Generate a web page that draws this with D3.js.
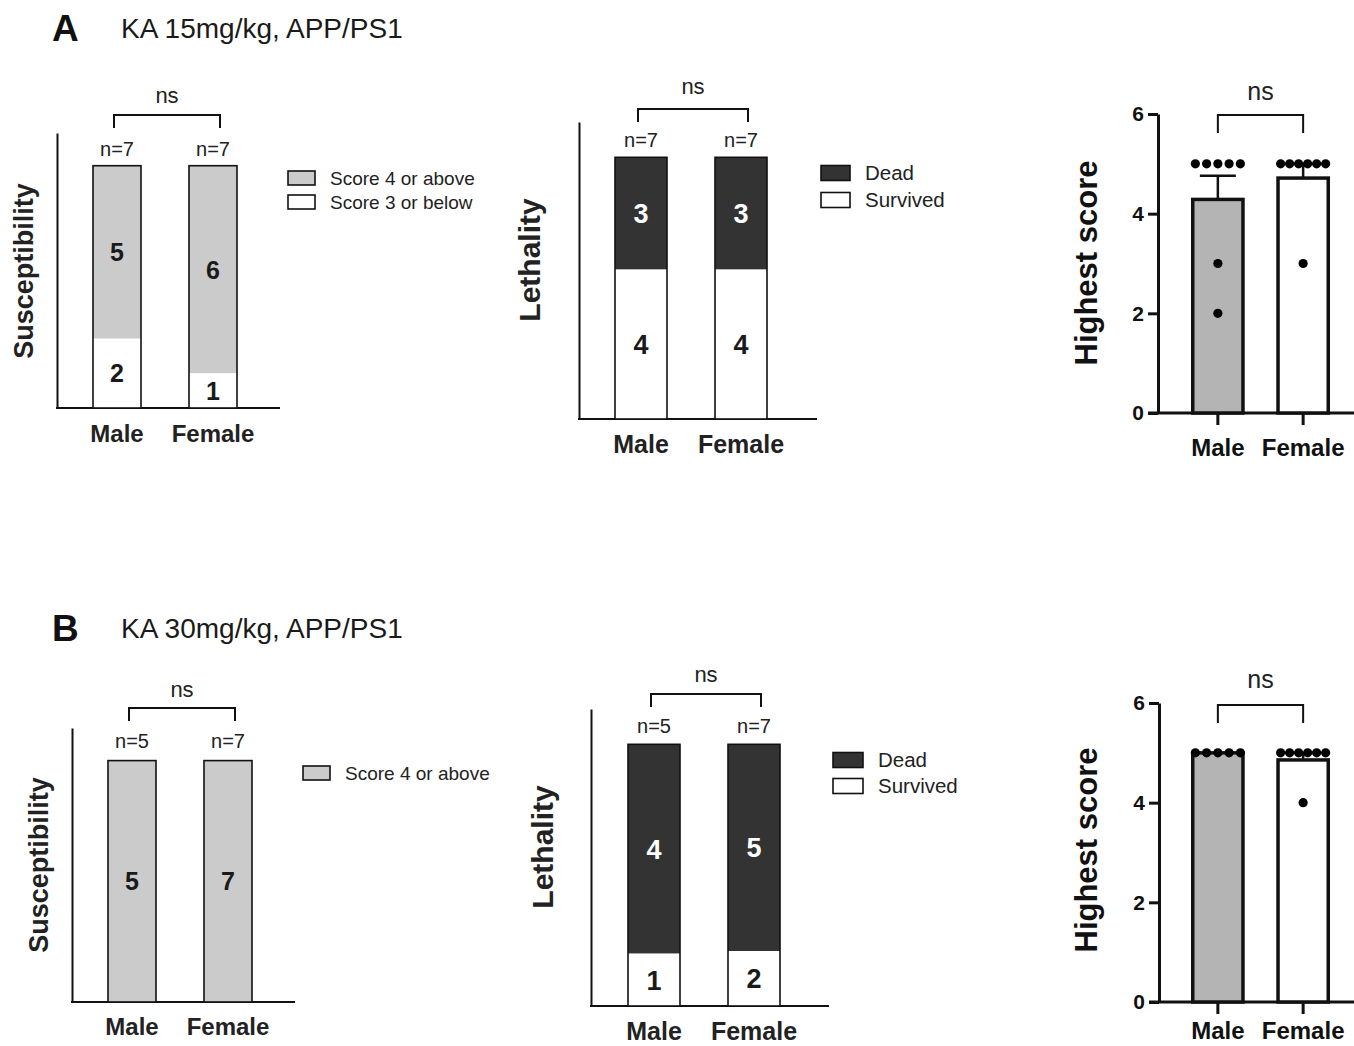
<!DOCTYPE html>
<html>
<head>
<meta charset="utf-8">
<script src="https://cdn.jsdelivr.net/npm/d3@7"></script>
<style>
  body { margin: 0; background: #fff; }
  svg { display: block; }
</style>
</head>
<body>
<script>
// ---- data ----
var sexes = ['Male', 'Female'];

// panel A : KA 15mg/kg
var nA = [7, 7];
var suscLowPctA = [28.6, 14.3];      // % of bar taken by "Score 3 or below"
var suscHighCountA = [5, 6];
var suscLowCountA = [2, 1];
var lethSurvPctA = [57.1, 57.1];     // % of bar taken by "Survived"
var lethDeadCountA = [3, 3];
var lethSurvCountA = [4, 4];
var scoreMaleA = [5, 5, 5, 5, 5, 3, 2];
var scoreFemaleA = [5, 5, 5, 5, 5, 5, 3];

// panel B : KA 30mg/kg
var nB = [5, 7];
var suscLowPctB = [0, 0];
var suscHighCountB = [5, 7];
var suscLowCountB = [0, 0];
var lethSurvPctB = [20, 21];
var lethDeadCountB = [4, 5];
var lethSurvCountB = [1, 2];
var scoreMaleB = [5, 5, 5, 5, 5];
var scoreFemaleB = [5, 5, 5, 5, 5, 5, 4];

var scoreTicks = [0, 2, 4, 6];
var suscLegendA = ['Score 4 or above', 'Score 3 or below'];
var suscLegendB = ['Score 4 or above'];
var lethLegend = ['Dead', 'Survived'];

var FONT = '"Liberation Sans", Arial, Helvetica, sans-serif';
var GREY = '#cbcbcb', DARK = '#333333', SCOREGREY = '#b4b4b4';

var svg = d3.select('body').append('svg')
    .attr('width', 1354)
    .attr('height', 1046)
    .style('font-family', FONT);

// panel headers
function header(y, letter, title) {
  svg.append('text').attr('x', 52).attr('y', y + 3)
    .attr('font-size', 37).attr('font-weight', 'bold').attr('fill', '#111').text(letter);
  svg.append('text').attr('x', 121).attr('y', y)
    .attr('font-size', 28).attr('fill', '#1a1a1a').text(title);
}
header(38, 'A', 'KA 15mg/kg, APP/PS1');
header(638, 'B', 'KA 30mg/kg, APP/PS1');

function bracket(g, x1, x2, yb, yt, nsBase, size) {
  g.append('path')
    .attr('d', 'M' + x1 + ',' + yt + 'V' + yb + 'H' + x2 + 'V' + yt)
    .attr('fill', 'none').attr('stroke', '#111').attr('stroke-width', 2);
  g.append('text').attr('x', (x1 + x2) / 2).attr('y', nsBase)
    .attr('text-anchor', 'middle').attr('font-size', size).attr('fill', '#222').text('ns');
}

// stacked 100% bar (susceptibility / lethality)
function drawStacked(c) {
  var g = svg.append('g');
  var y = d3.scaleLinear().domain([0, 113.5]).range([c.bottom, c.axisTop]);
  var x = d3.scaleBand().domain(sexes).range([c.barL, c.barR]).paddingInner(c.pad);

  g.append('g').attr('transform', 'translate(' + c.ax + ',0)')
    .call(d3.axisLeft(y).tickValues([]).tickSizeOuter(0))
    .select('.domain').attr('stroke', '#111').attr('stroke-width', 2);
  g.append('line').attr('x1', c.ax - 1).attr('x2', c.xEnd)
    .attr('y1', c.bottom).attr('y2', c.bottom)
    .attr('stroke', '#111').attr('stroke-width', 2);

  var rows = sexes.map(function(s, i) {
    return { sex: s, low: c.lowPct[i], top: c.topCount[i], lowN: c.lowCount[i], n: c.n[i] };
  });

  var bars = g.selectAll('.bar').data(rows).enter().append('g');
  bars.append('rect')
    .attr('x', function(d) { return x(d.sex); })
    .attr('width', x.bandwidth())
    .attr('y', y(100))
    .attr('height', function(d) { return y(d.low) - y(100); })
    .attr('fill', c.topFill);
  bars.filter(function(d) { return d.low > 0; }).append('rect')
    .attr('x', function(d) { return x(d.sex); })
    .attr('width', x.bandwidth())
    .attr('y', function(d) { return y(d.low); })
    .attr('height', function(d) { return y(0) - y(d.low); })
    .attr('fill', c.lowFill);
  bars.append('rect')
    .attr('x', function(d) { return x(d.sex); })
    .attr('width', x.bandwidth())
    .attr('y', y(100))
    .attr('height', y(0) - y(100))
    .attr('fill', 'none').attr('stroke', '#111').attr('stroke-width', 1.6);

  var cx = function(d) { return x(d.sex) + x.bandwidth() / 2; };
  bars.append('text')
    .attr('x', cx).attr('y', function(d) { return (y(100) + y(d.low)) / 2; })
    .attr('dy', '0.36em').attr('text-anchor', 'middle')
    .attr('font-size', c.numSize).attr('font-weight', 'bold').attr('fill', c.topText)
    .text(function(d) { return d.top; });
  bars.filter(function(d) { return d.lowN > 0; }).append('text')
    .attr('x', cx).attr('y', function(d) { return (y(0) + y(d.low)) / 2; })
    .attr('dy', '0.36em').attr('text-anchor', 'middle')
    .attr('font-size', c.numSize).attr('font-weight', 'bold').attr('fill', '#1a1a1a')
    .text(function(d) { return d.lowN; });
  bars.append('text')
    .attr('x', cx).attr('y', c.nBase).attr('text-anchor', 'middle')
    .attr('font-size', 20).attr('fill', '#222')
    .text(function(d) { return 'n=' + d.n; });
  bars.append('text')
    .attr('x', cx).attr('y', c.catBase).attr('text-anchor', 'middle')
    .attr('font-size', c.catSize).attr('font-weight', 'bold').attr('fill', '#222')
    .text(function(d) { return d.sex; });

  var c1 = x('Male') + x.bandwidth() / 2, c2 = x('Female') + x.bandwidth() / 2;
  bracket(g, c1 - 3, c2 + 7, c.brY, c.brY + 13, c.nsBase, 22);

  g.append('text')
    .attr('transform', 'translate(' + c.labX + ',' + c.labY + ') rotate(-90)')
    .attr('text-anchor', 'middle').attr('font-size', c.labSize).attr('font-weight', 'bold')
    .attr('fill', '#222').text(c.label);

  var lg = g.append('g').attr('transform', 'translate(' + c.legX + ',' + c.legY + ')');
  c.legend.forEach(function(t, i) {
    lg.append('rect').attr('x', 0).attr('y', i * c.legStep - c.boxH / 2)
      .attr('width', c.boxW).attr('height', c.boxH)
      .attr('fill', c.legFills[i]).attr('stroke', '#111').attr('stroke-width', 1.6);
    lg.append('text').attr('x', c.boxW + 15).attr('y', i * c.legStep)
      .attr('dy', '0.36em').attr('font-size', c.legSize).attr('fill', '#222').text(t);
  });
}

// bar + scatter + SEM (highest score)
function drawScore(c) {
  var g = svg.append('g');
  var y = d3.scaleLinear().domain([0, 6]).range([c.bottom, c.top]);
  var x = d3.scaleBand().domain(sexes).range([1191, 1330]).paddingInner(0.37);
  var groups = [c.male, c.female];
  var fills = [SCOREGREY, '#fff'];

  g.append('line').attr('x1', c.ax - 10).attr('x2', 1354)
    .attr('y1', c.bottom).attr('y2', c.bottom)
    .attr('stroke', '#111').attr('stroke-width', 3);
  var ya = g.append('g').attr('transform', 'translate(' + c.ax + ',0)')
    .call(d3.axisLeft(y).tickValues(scoreTicks).tickFormat(d3.format('d'))
      .tickSize(10).tickSizeOuter(0).tickPadding(4));
  ya.select('.domain').attr('stroke', '#111').attr('stroke-width', 3);
  ya.selectAll('.tick line').attr('stroke', '#111').attr('stroke-width', 3);
  ya.selectAll('.tick text').attr('font-family', FONT).attr('font-size', 21)
    .attr('font-weight', 'bold').attr('fill', '#111');

  sexes.forEach(function(s, i) {
    var vals = groups[i];
    var m = d3.mean(vals);
    var sem = d3.deviation(vals) / Math.sqrt(vals.length);
    var cx = x(s) + x.bandwidth() / 2;
    g.append('rect')
      .attr('x', x(s) + 1.75).attr('width', x.bandwidth() - 3.5)
      .attr('y', y(m)).attr('height', y(0) - y(m))
      .attr('fill', fills[i]).attr('stroke', '#111').attr('stroke-width', 3.5);
    if (sem > 0) {
      g.append('path')
        .attr('d', 'M' + cx + ',' + y(m) + 'V' + y(m + sem) + 'M' + (cx - 18) + ',' + y(m + sem) + 'H' + (cx + 18))
        .attr('stroke', '#111').attr('stroke-width', 2.5).attr('fill', 'none');
    }
    g.append('line').attr('x1', cx).attr('x2', cx)
      .attr('y1', c.bottom).attr('y2', c.bottom + 12)
      .attr('stroke', '#111').attr('stroke-width', 3);
    g.append('text').attr('x', cx).attr('y', c.catBase).attr('text-anchor', 'middle')
      .attr('font-size', 24).attr('font-weight', 'bold').attr('fill', '#111').text(s);

    // equal values are spread sideways
    d3.group(vals, function(v) { return v; }).forEach(function(arr, v) {
      var k = arr.length;
      var step = k > 1 ? 45 / (k - 1) : 0;
      arr.forEach(function(_, j) {
        g.append('circle')
          .attr('cx', cx + (j - (k - 1) / 2) * step).attr('cy', y(v))
          .attr('r', 4.6).attr('fill', '#000');
      });
    });
  });

  var c1 = x('Male') + x.bandwidth() / 2, c2 = x('Female') + x.bandwidth() / 2;
  bracket(g, c1, c2, c.brY, c.brY + 18, c.nsBase, 25);

  g.append('text')
    .attr('transform', 'translate(' + c.labX + ',' + c.labY + ') rotate(-90)')
    .attr('text-anchor', 'middle').attr('font-size', 31).attr('font-weight', 'bold')
    .attr('fill', '#111').text('Highest score');
}

// ---- panel A ----
drawStacked({
  ax: 57, bottom: 408, axisTop: 133, xEnd: 280, barL: 93, barR: 237, pad: 0.5,
  n: nA, lowPct: suscLowPctA, topCount: suscHighCountA, lowCount: suscLowCountA,
  topFill: GREY, lowFill: '#fff', topText: '#1a1a1a', numSize: 25,
  nBase: 156, catBase: 442, catSize: 24, brY: 115, nsBase: 103,
  label: 'Susceptibility', labX: 33, labY: 271, labSize: 27,
  legend: suscLegendA, legFills: [GREY, '#fff'], legX: 288, legY: 178, legStep: 24,
  boxW: 27, boxH: 14, legSize: 19
});
drawStacked({
  ax: 579, bottom: 419, axisTop: 122, xEnd: 817, barL: 615, barR: 767, pad: 0.48,
  n: nA, lowPct: lethSurvPctA, topCount: lethDeadCountA, lowCount: lethSurvCountA,
  topFill: DARK, lowFill: '#fff', topText: '#fff', numSize: 27,
  nBase: 147, catBase: 453, catSize: 25, brY: 109, nsBase: 94,
  label: 'Lethality', labX: 540, labY: 260, labSize: 30,
  legend: lethLegend, legFills: [DARK, '#fff'], legX: 821, legY: 173, legStep: 27,
  boxW: 29, boxH: 15, legSize: 20.5
});
drawScore({
  ax: 1158, bottom: 413, top: 114, male: scoreMaleA, female: scoreFemaleA,
  brY: 115, nsBase: 100, catBase: 456, labX: 1097, labY: 263
});

// ---- panel B ----
drawStacked({
  ax: 72, bottom: 1002, axisTop: 728, xEnd: 295, barL: 108, barR: 252, pad: 0.5,
  n: nB, lowPct: suscLowPctB, topCount: suscHighCountB, lowCount: suscLowCountB,
  topFill: GREY, lowFill: '#fff', topText: '#1a1a1a', numSize: 25,
  nBase: 748, catBase: 1035, catSize: 24, brY: 708, nsBase: 697,
  label: 'Susceptibility', labX: 48, labY: 865, labSize: 27,
  legend: suscLegendB, legFills: [GREY], legX: 303, legY: 773, legStep: 24,
  boxW: 27, boxH: 14, legSize: 19
});
drawStacked({
  ax: 591, bottom: 1006, axisTop: 709, xEnd: 829, barL: 628, barR: 780, pad: 0.48,
  n: nB, lowPct: lethSurvPctB, topCount: lethDeadCountB, lowCount: lethSurvCountB,
  topFill: DARK, lowFill: '#fff', topText: '#fff', numSize: 27,
  nBase: 733, catBase: 1040, catSize: 25, brY: 694, nsBase: 682,
  label: 'Lethality', labX: 553, labY: 847, labSize: 30,
  legend: lethLegend, legFills: [DARK, '#fff'], legX: 833, legY: 760, legStep: 26,
  boxW: 30, boxH: 15, legSize: 20.5
});
drawScore({
  ax: 1159, bottom: 1002, top: 703, male: scoreMaleB, female: scoreFemaleB,
  brY: 705, nsBase: 688, catBase: 1039, labX: 1097, labY: 850
});
</script>
</body>
</html>
